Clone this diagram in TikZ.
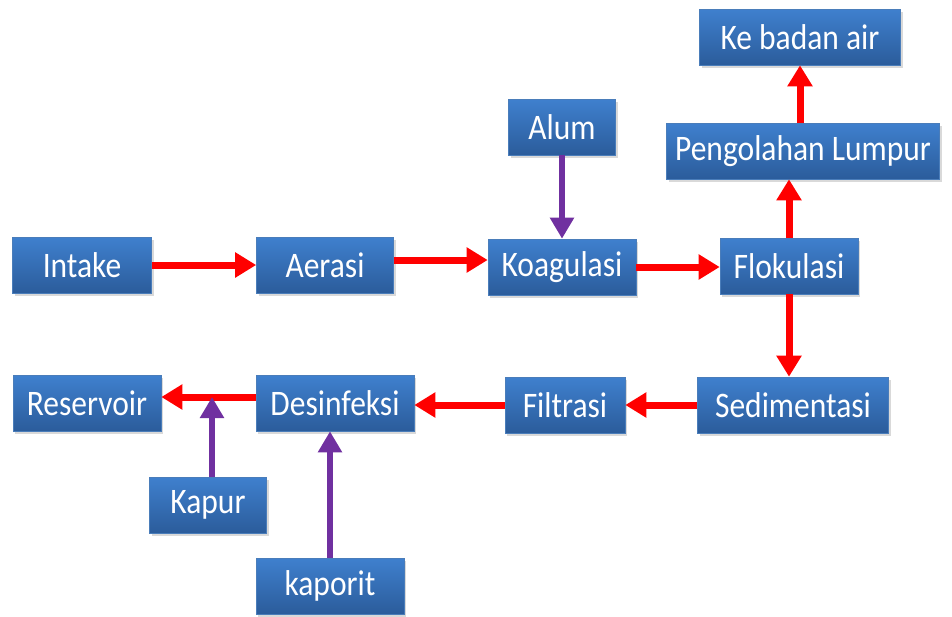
\documentclass[tikz,border=0pt]{standalone}
\usepackage{fontspec}
\setmainfont{Carlito}
\usetikzlibrary{arrows.meta,positioning,shadows}
\definecolor{boxtop}{HTML}{3F80CE}
\definecolor{boxbot}{HTML}{2B5C9B}
\definecolor{boxline}{HTML}{4A7DBA}
\definecolor{flowred}{HTML}{FF0000}
\definecolor{dose}{HTML}{7030A0}
\newcommand{\tall}[1]{\scalebox{1}[1.14]{#1}}

\begin{document}
\begin{tikzpicture}[x=1pt, y=-1pt,
  unit/.style={rectangle, top color=boxtop, bottom color=boxbot, draw=boxline, line width=0.6pt,
    text=white, font=\fontsize{31.5}{34}\selectfont, minimum height=56pt, inner sep=0pt,
    drop shadow={shadow xshift=2pt, shadow yshift=-3pt, opacity=0.3}},
  flow/.style={-{Triangle[length=21pt,width=24pt]}, flowred, line width=7pt},
  feed/.style={-{Triangle[length=21pt,width=23pt]}, dose, line width=6pt}]
  \useasboundingbox (0,0) rectangle (952,616);
  \node[unit, minimum width=139pt] (intake) at (82,265) {\tall{Intake}};
  \node[unit, minimum width=137pt] (aerasi) at (325,265) {\tall{Aerasi}};
  \node[unit, minimum width=148pt] (koag) at (562,267) {\tall{Koagulasi}};
  \node[unit, minimum width=138pt] (flok) at (789,266) {\tall{Flokulasi}};
  \node[unit, minimum width=107pt] (alum) at (562,127) {\tall{Alum}};
  \node[unit, minimum width=273pt] (lumpur) at (803,151) {\tall{Pengolahan Lumpur}};
  \node[unit, minimum width=201pt] (badan) at (800,37) {\tall{Ke badan air}};
  \node[unit, minimum width=191pt] (sedimen) at (793,405) {\tall{Sedimentasi}};
  \node[unit, minimum width=120pt] (filtrasi) at (565,405) {\tall{Filtrasi}};
  \node[unit, minimum width=158pt] (desinf) at (335,403) {\tall{Desinfeksi}};
  \node[unit, minimum width=148pt] (reservoir) at (87,403) {\tall{Reservoir}};
  \node[unit, minimum width=117pt] (kapur) at (208,505) {\tall{Kapur}};
  \node[unit, minimum width=148pt] (kaporit) at (330,586) {\tall{kaporit}};
  \draw[flow] (intake.east) -- (aerasi.west);
  \draw[flow] ([yshift=5pt]aerasi.east) -- ([yshift=5pt]aerasi.east -| koag.west);
  \draw[flow] (koag.east) -- (koag.east -| flok.west);
  \draw[flow] (flok.north) -- (flok.north |- lumpur.south);
  \draw[flow] (badan.south |- lumpur.north) -- (badan.south);
  \draw[flow] (flok.south) -- (flok.south |- sedimen.north);
  \draw[flow] (sedimen.west) -- (sedimen.west -| filtrasi.east);
  \draw[flow] (filtrasi.west) -- (filtrasi.west -| desinf.east);
  \draw[flow] ([yshift=6pt]desinf.west) -- ([yshift=6pt]desinf.west -| reservoir.east);
  \draw[feed] (alum.south) -- (koag.north);
  \draw[feed] ([xshift=4pt]kapur.north) -- ([xshift=4pt,yshift=6pt]kapur.north |- reservoir.east);
  \draw[feed] (kaporit.north) -- (kaporit.north |- desinf.south);
\end{tikzpicture}
\end{document}
